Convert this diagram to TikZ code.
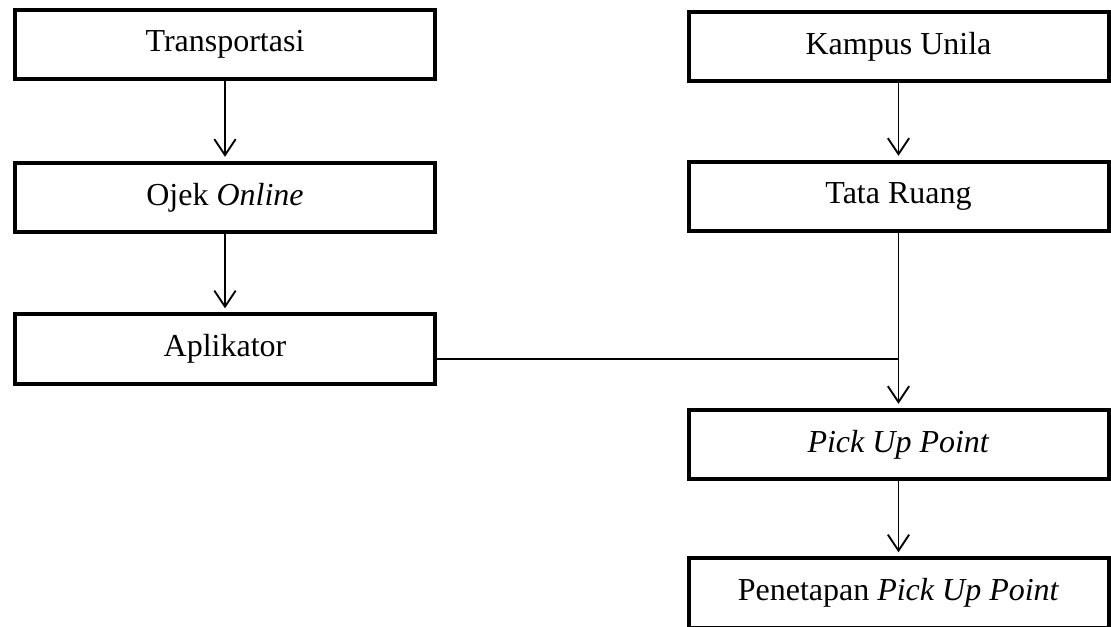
\documentclass[tikz,border=0pt]{standalone}
\usepackage{fontspec}
\setmainfont{Liberation Serif}
\usetikzlibrary{arrows.meta}
\tikzset{
  kotak/.style={draw, line width=3pt, rectangle, minimum width=315pt,
    minimum height=52pt, inner sep=0pt, font=\fontsize{24}{28}\selectfont},
  panah/.style={-{Straight Barb[length=12pt,width=16pt]}, line width=1.4pt, shorten >=3pt}
}
\begin{document}
\begin{tikzpicture}[x=0.75pt,y=-0.75pt]
    \useasboundingbox (0,0) rectangle (1111,627);
    \clip (0,0) rectangle (1111,627);
    % kolom kiri
    \node[kotak] (trans) at (225,44.5) {Transportasi};
    \node[kotak] (ojek) at (225,197.5) {Ojek \textit{Online}};
    \node[kotak] (aplik) at (225,349) {Aplikator};
    % kolom kanan
    \node[kotak] (kampus) at (898.5,46.5) {Kampus Unila};
    \node[kotak] (tata) at (898.5,196.5) {Tata Ruang};
    \node[kotak] (pick) at (898.5,444.5) {\textit{Pick Up Point}};
    \node[kotak] (tetap) at (898.5,593) {Penetapan \textit{Pick Up Point}};
    % panah
    \draw[panah] (trans) -- (ojek);
    \draw[panah] (ojek) -- (aplik);
    \draw[panah] (kampus) -- (tata);
    \draw[panah] (tata) -- (pick);
    \draw[panah] (pick) -- (tetap);
    \coordinate (gabung) at (tata.south |- 0,359);
    \draw[line width=1pt] (aplik.east |- gabung) -- (gabung);
  \end{tikzpicture}
\end{document}
